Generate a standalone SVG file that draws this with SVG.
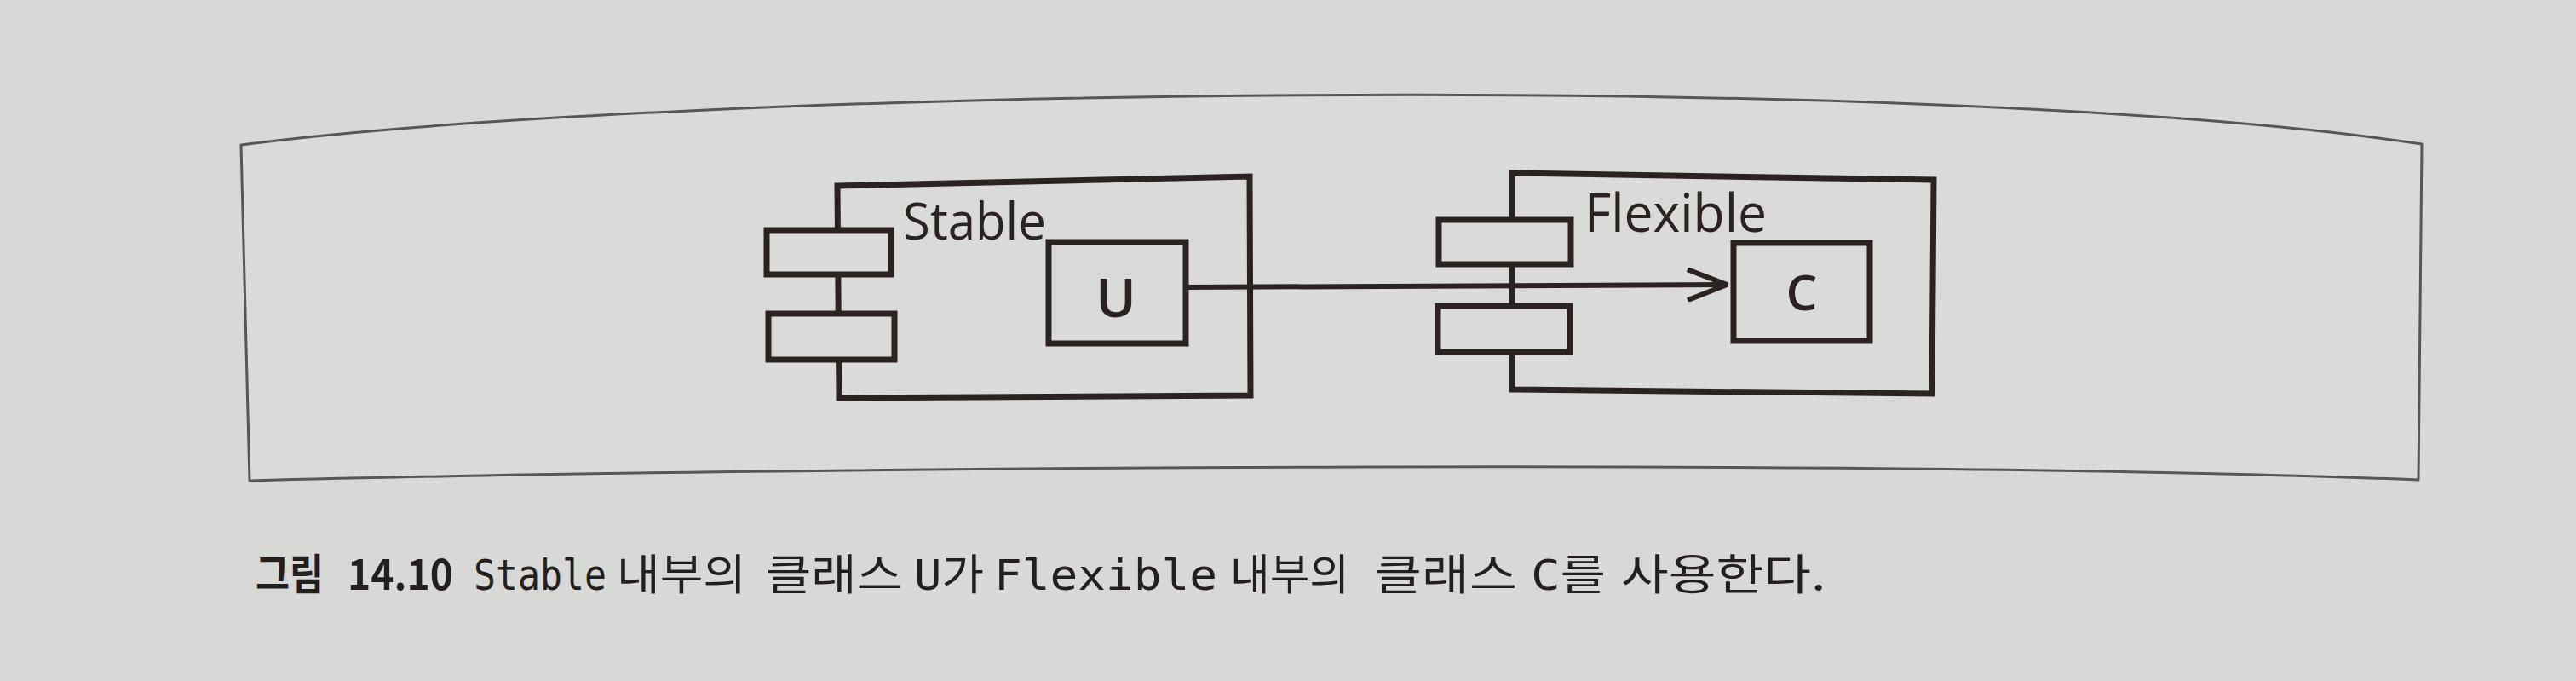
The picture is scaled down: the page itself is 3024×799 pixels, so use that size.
<svg xmlns="http://www.w3.org/2000/svg" width="3024" height="799" viewBox="0 0 3024 799">
  <defs>
    <style>
      .bg { fill: #d8d9d6; }
      .frame { fill: #dadbd8; stroke: #565656; stroke-width: 3; stroke-linejoin: round; }
      .box { fill: none; stroke: #2a2321; stroke-width: 7; stroke-linejoin: miter; }
      .stub { fill: #dadbd8; stroke: #2a2321; stroke-width: 7; }
      .lbl { font-family: "Open Sans", "Noto Sans", "Liberation Sans", sans-serif; font-weight: 500; fill: #2a2321; }
      .cls { font-family: "Open Sans", "Noto Sans", "Liberation Sans", sans-serif; font-weight: 600; fill: #2a2321; text-anchor: middle; }
      .cap { font-family: "Noto Sans CJK KR", "Noto Sans", sans-serif; font-size: 50px; font-weight: 400; fill: #221f1e; }
      .b { font-weight: 700; }
      .mono { font-family: "DejaVu Sans Mono", "Liberation Mono", "Noto Sans CJK KR", monospace; font-weight: 400; }
      .conn { fill: none; stroke: #2a2321; stroke-width: 6; }
    </style>
    <marker id="open" viewBox="0 0 50 40" refX="48" refY="20" markerWidth="50" markerHeight="40" markerUnits="userSpaceOnUse" orient="auto">
      <path d="M2,2 L48,20 L2,38" fill="none" stroke="#2a2321" stroke-width="6"/>
    </marker>
  </defs>

  <rect class="bg" x="0" y="0" width="3024" height="799"/>

  <g id="figure-frame">
    <path class="frame" d="M283,170 C780,105 2250,80 2843,169 L2839,563 C2200,538 900,548 293,564 Z"/>
  </g>

  <g id="stable">
    <polygon class="box" points="983,218 1467,207 1468,464 985,467"/>
    <rect class="stub" x="900" y="270" width="146" height="52"/>
    <rect class="stub" x="902" y="368" width="148" height="54"/>
    <text class="lbl" x="1060" y="281" font-size="60" textLength="168" lengthAdjust="spacingAndGlyphs">Stable</text>
  </g>

  <g id="class-u">
    <rect class="box" x="1231" y="284" width="161" height="119"/>
    <text class="cls" x="1310" y="372" font-size="64">U</text>
  </g>

  <g id="flexible">
    <polygon class="box" points="1775,203 2270,211 2268,462 1775,457"/>
    <rect class="stub" x="1689" y="258" width="155" height="52"/>
    <rect class="stub" x="1688" y="359" width="155" height="54"/>
    <text class="lbl" x="1860" y="272" font-size="62" textLength="214" lengthAdjust="spacingAndGlyphs">Flexible</text>
  </g>

  <g id="class-c">
    <rect class="box" x="2035" y="285" width="160" height="115"/>
    <text class="cls" x="2115" y="364" font-size="58">C</text>
  </g>

  <g id="connectors">
    <path class="conn" d="M1392,337 L2027,334" marker-end="url(#open)"/>
  </g>

  <g id="caption">
    <text class="cap b" x="300" y="692" font-size="44" textLength="80" lengthAdjust="spacingAndGlyphs">그림</text>
    <text class="cap b" x="408" y="692" font-size="52" textLength="124" lengthAdjust="spacingAndGlyphs">14.10</text>
    <text class="cap mono" x="556" y="692" font-size="46" textLength="156" lengthAdjust="spacingAndGlyphs">Stable</text>
    <text class="cap" x="724" y="692" font-size="50" textLength="152" lengthAdjust="spacingAndGlyphs">내부의</text>
    <text class="cap" x="899" y="692" font-size="50" textLength="160" lengthAdjust="spacingAndGlyphs">클래스</text>
    <text class="cap" x="1073" y="692" font-size="50" textLength="82" lengthAdjust="spacingAndGlyphs"><tspan class="mono">U</tspan>가</text>
    <text class="cap mono" x="1167" y="692" font-size="54" textLength="262" lengthAdjust="spacingAndGlyphs">Flexible</text>
    <text class="cap" x="1444" y="692" font-size="46" textLength="140" lengthAdjust="spacingAndGlyphs">내부의</text>
    <text class="cap" x="1613" y="692" font-size="50" textLength="168" lengthAdjust="spacingAndGlyphs">클래스</text>
    <text class="cap" x="1797" y="692" font-size="50" textLength="88" lengthAdjust="spacingAndGlyphs"><tspan class="mono">C</tspan>를</text>
    <text class="cap" x="1903" y="692" font-size="50" textLength="240" lengthAdjust="spacingAndGlyphs">사용한다.</text>
  </g>
</svg>
